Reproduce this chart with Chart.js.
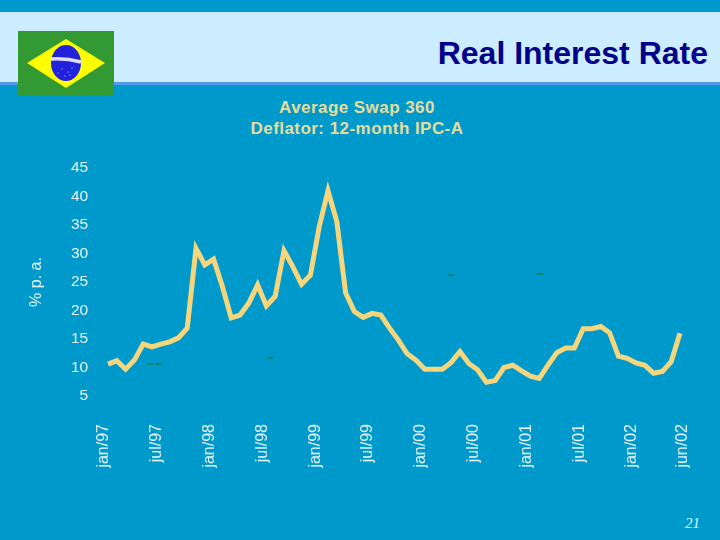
<!DOCTYPE html>
<html>
<head>
<meta charset="utf-8">
<title>Real Interest Rate</title>
<script src="https://cdn.jsdelivr.net/npm/chart.js@4/dist/chart.umd.min.js"></script>
<style>
    html, body { margin: 0; padding: 0; }
    body { position: relative; width: 720px; height: 540px; overflow: hidden; background: #0099cc; font-family: "Liberation Sans", Arial, sans-serif; }
    #band { position: absolute; left: 0; top: 12px; width: 720px; height: 70px; background: #ccecff; border-bottom: 3px solid #5599ee; }
    #flag { position: absolute; left: 18px; top: 31px; }
    #title { position: absolute; right: 12px; top: 35px; font-size: 32px; line-height: 37px; font-weight: bold; color: #000088; white-space: nowrap; }
    #subtitle { position: absolute; left: 207px; width: 300px; top: 97px; text-align: center; font-size: 17px; letter-spacing: 0.45px; line-height: 21px; font-weight: bold; color: #e6dd9a; }
    #page { position: absolute; left: 685px; top: 515px; font-family: "Liberation Serif", serif; font-style: italic; font-size: 15px; color: #ccffff; }
    #chart { position: absolute; left: 0; top: 0; }
</style>
</head>
<body>
<div id="band"></div>
<svg id="flag" width="96" height="65" viewBox="0 0 96 65">
    <rect width="96" height="65" fill="#339933"/>
    <polygon points="9,32 48,8 87,32 48,57" fill="#ffff00"/>
    <ellipse cx="48" cy="32" rx="15" ry="18" fill="#2222dd"/>
    <path d="M33,28 Q48,27 63,31" stroke="#ddddff" stroke-width="3.5" fill="none"/>
    <g fill="#ffffff">
        <circle cx="44" cy="38" r="0.5"/><circle cx="50" cy="41" r="0.5"/><circle cx="54" cy="37" r="0.5"/>
        <circle cx="47" cy="45" r="0.5"/><circle cx="40" cy="42" r="0.5"/><circle cx="52" cy="44" r="0.5"/>
    </g>
</svg>
<div id="title">Real Interest Rate</div>
<div id="subtitle">Average Swap 360<br>Deflator: 12-month IPC-A</div>
<div id="page">21</div>
<canvas id="chart" width="720" height="540"></canvas>
<script>
const rateValues = [
    10.6, 11.2, 9.7, 11.3, 14.1, 13.6, 14.1, 14.5, 15.2, 16.9, 30.9, 28,
    29, 24.2, 18.7, 19.2, 21.3, 24.5, 20.8, 22.5, 30.5, 27.7, 24.6, 26.2,
    34.7, 41, 35.6, 23.1, 19.8, 18.8, 19.5, 19.2, 16.9, 14.8, 12.4, 11.3,
    9.7, 9.7, 9.7, 10.9, 12.8, 10.7, 9.6, 7.4, 7.7, 10, 10.4, 9.4,
    8.5, 8.1, 10.4, 12.6, 13.4, 13.4, 16.8, 16.8, 17.2, 16.1, 12, 11.6,
    10.8, 10.4, 9, 9.3, 11, 16,
];
const markMonths = [4.8, 5.7, 18.5, 39, 49.1];
const markValues = [10.6, 10.6, 11.7, 26.2, 26.4];
const tickMonths = [0, 6, 12, 18, 24, 30, 36, 42, 48, 54, 60, 65.8];
const tickLabels = ["jan/97", "jul/97", "jan/98", "jul/98", "jan/99", "jul/99", "jan/00", "jul/00", "jan/01", "jul/01", "jan/02", "jun/02"];

const textColor = "#e8f6ff";
const fontFamily = "'Liberation Sans', Arial, sans-serif";

new Chart(document.getElementById("chart"), {
    type: "line",
    data: {
        datasets: [
            {
                data: rateValues.map((v, i) => ({ x: i, y: v })),
                borderColor: "#f6d67c",
                borderWidth: 5,
                pointRadius: 0,
                tension: 0,
            },
            {
                data: markMonths.map((m, i) => ({ x: m, y: markValues[i] })),
                showLine: false,
                pointStyle: "line",
                pointRadius: 3,
                pointBorderColor: "#0a8060",
                pointBorderWidth: 2,
            },
        ],
    },
    options: {
        responsive: false,
        animation: false,
        layout: { padding: { left: 27, right: 31.2, top: 168, bottom: 0 } },
        plugins: { legend: { display: false }, tooltip: { enabled: false } },
        scales: {
            x: {
                type: "linear",
                min: -1,
                max: 66,
                grid: { display: false, drawTicks: false },
                border: { display: false },
                afterBuildTicks: (scale) => {
                    scale.ticks = tickMonths.map((m) => ({ value: m }));
                },
                afterFit: (scale) => {
                    scale.height = 144;
                    // keep the plot edges where the layout puts them
                    scale.paddingLeft = 0;
                    scale.paddingRight = 0;
                },
                ticks: {
                    autoSkip: false,
                    minRotation: 90,
                    maxRotation: 90,
                    padding: 28,
                    labelOffset: -4,
                    color: textColor,
                    font: { family: fontFamily, size: 16 },
                    callback: (value, index) => tickLabels[index],
                },
            },
            y: {
                min: 5,
                max: 45,
                grid: { display: false, drawTicks: false },
                border: { display: false },
                afterFit: (scale) => {
                    scale.width = 72.2;
                    scale.paddingTop = 0;
                    scale.paddingBottom = 0;
                },
                title: {
                    display: true,
                    text: "% p. a.",
                    color: textColor,
                    font: { family: fontFamily, size: 16 },
                    padding: 0,
                },
                ticks: {
                    stepSize: 5,
                    padding: 11,
                    color: textColor,
                    font: { family: fontFamily, size: 15.5 },
                },
            },
        },
    },
});
</script>
</body>
</html>
